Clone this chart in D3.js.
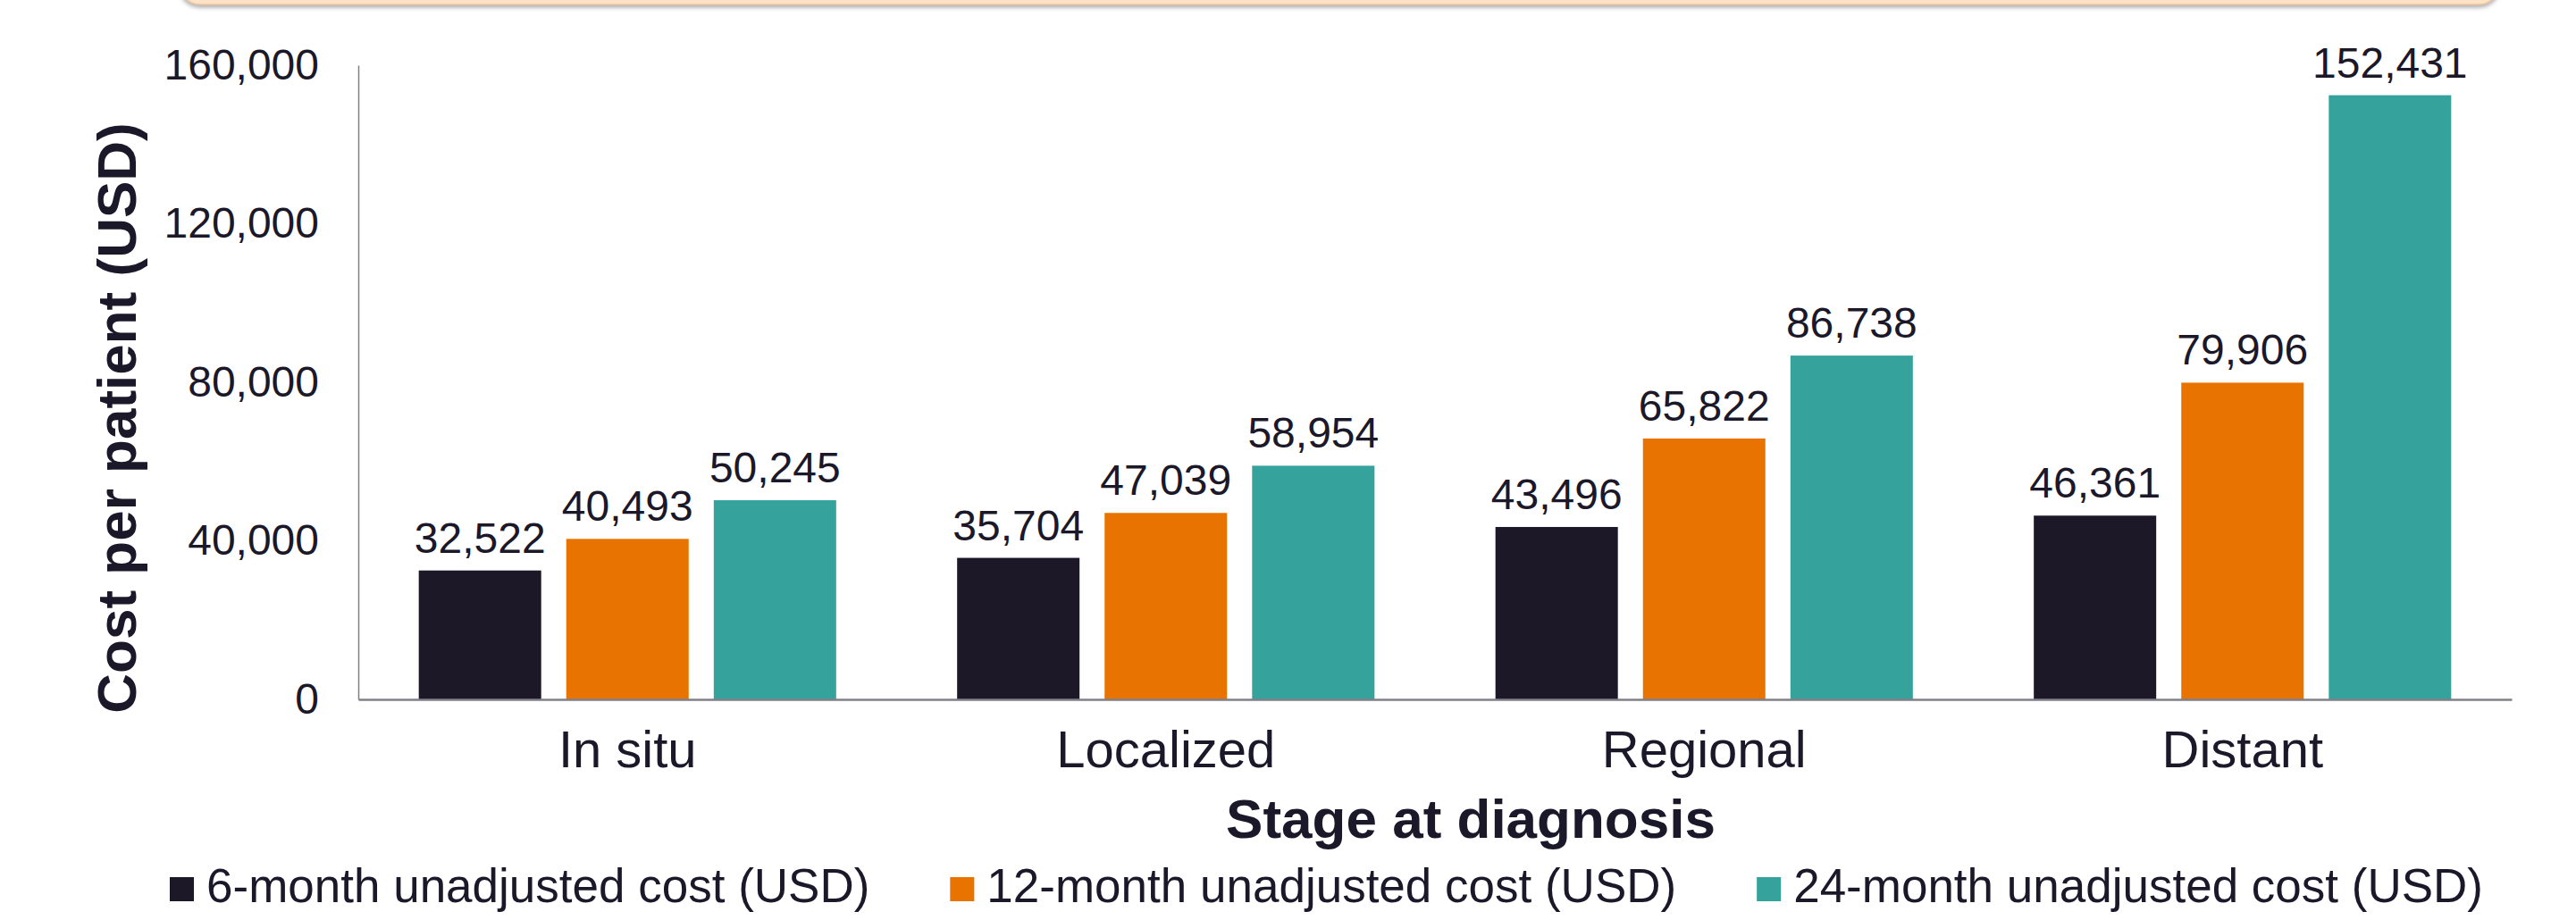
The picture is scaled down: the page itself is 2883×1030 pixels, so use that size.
<!DOCTYPE html>
<html>
<head>
<meta charset="utf-8">
<script src="https://cdn.jsdelivr.net/npm/d3@7"></script>
<style>
  html, body { margin: 0; padding: 0; background: #ffffff; }
  svg { display: block; }
  text { font-family: "Liberation Sans", Arial, sans-serif; fill: #1b1829; }
</style>
</head>
<body>
<svg id="chart" width="2883" height="1030"></svg>
<script>
// ---- data ----
const categories = ["In situ", "Localized", "Regional", "Distant"];
const seriesNames = [
  "6-month unadjusted cost (USD)",
  "12-month unadjusted cost (USD)",
  "24-month unadjusted cost (USD)"
];
const cost6 = [32522, 35704, 43496, 46361];
const cost12 = [40493, 47039, 65822, 79906];
const cost24 = [50245, 58954, 86738, 152431];
const yTicks = [0, 40000, 80000, 120000, 160000];
const seriesColors = ["#1c1828", "#e97300", "#35a39b"];
const xTitle = "Stage at diagnosis";
const yTitle = "Cost per patient (USD)";

const seriesValues = [cost6, cost12, cost24];
const rows = categories.map((c, i) => ({
  category: c,
  values: seriesNames.map((s, j) => ({ series: s, value: seriesValues[j][i], idx: j }))
}));

// ---- layout ----
const svg = d3.select("#chart");
const plotLeft = 401, plotRight = 2811, plotTop = 73, plotBottom = 783;

// defs: shadow for the top banner
const defs = svg.append("defs");
const f = defs.append("filter").attr("id", "shadow").attr("x", "-5%").attr("y", "-50%").attr("width", "110%").attr("height", "200%");
f.append("feDropShadow").attr("dx", 0).attr("dy", 3).attr("stdDeviation", 2).attr("flood-color", "#808080").attr("flood-opacity", 0.6);

// top banner (partially visible)
svg.append("rect")
  .attr("x", 200).attr("y", -70).attr("width", 2598).attr("height", 75)
  .attr("rx", 24).attr("ry", 24)
  .attr("fill", "#fee2c6").attr("stroke", "#ebc59e").attr("stroke-width", 1.5)
  .attr("filter", "url(#shadow)");

const x0 = d3.scaleBand().domain(categories).range([plotLeft, plotRight]).paddingInner(0).paddingOuter(0);
const x1 = d3.scaleBand().domain(seriesNames).range([0, x0.bandwidth()]).paddingInner(0.17).paddingOuter(0.41);
const y = d3.scaleLinear().domain([0, 160000]).range([plotBottom, plotTop]);
const color = d3.scaleOrdinal().domain(seriesNames).range(seriesColors);
const fmt = d3.format(",");

// y axis
const yAxis = svg.append("g")
  .attr("transform", `translate(${plotLeft},0)`)
  .call(d3.axisLeft(y).tickValues(yTicks).tickFormat(fmt).tickSize(0).tickSizeOuter(0).tickPadding(44));
yAxis.select(".domain").attr("stroke", "#808088").attr("stroke-width", 1.5);
yAxis.selectAll(".tick text")
  .attr("font-size", 48).attr("font-family", "Liberation Sans, Arial, sans-serif")
  .attr("fill", "#1b1829");

// bars
const groups = svg.append("g").selectAll("g")
  .data(rows).join("g")
  .attr("transform", d => `translate(${x0(d.category)},0)`);

groups.selectAll("rect")
  .data(d => d.values).join("rect")
  .attr("x", d => x1(d.series))
  .attr("width", x1.bandwidth())
  .attr("y", d => y(d.value))
  .attr("height", d => y(0) - y(d.value))
  .attr("fill", d => color(d.series));

groups.selectAll("text.val")
  .data(d => d.values).join("text")
  .attr("class", "val")
  .attr("x", d => x1(d.series) + x1.bandwidth() / 2)
  .attr("y", d => y(d.value) - 20)
  .attr("text-anchor", "middle")
  .attr("font-size", 48)
  .text(d => fmt(d.value));

// x axis
const xAxis = svg.append("g")
  .attr("transform", `translate(0,${plotBottom})`)
  .call(d3.axisBottom(x0).tickSize(0).tickSizeOuter(0).tickPadding(0));
xAxis.select(".domain").attr("stroke", "#808088").attr("stroke-width", 2.5);
xAxis.selectAll(".tick text")
  .attr("font-size", 58).attr("font-family", "Liberation Sans, Arial, sans-serif")
  .attr("fill", "#1b1829")
  .attr("dy", null).attr("y", 76);

// axis titles
svg.append("text")
  .attr("x", 1646).attr("y", 938)
  .attr("text-anchor", "middle")
  .attr("font-size", 62).attr("font-weight", "bold")
  .text(xTitle);

svg.append("text")
  .attr("transform", "translate(152,468) rotate(-90)")
  .attr("text-anchor", "middle")
  .attr("font-size", 62).attr("font-weight", "bold")
  .text(yTitle);

// legend
const legend = svg.append("g");
let lx = 190;
seriesNames.forEach((s, i) => {
  const g = legend.append("g").attr("transform", `translate(${lx},0)`);
  g.append("rect").attr("x", 0).attr("y", 982).attr("width", 27).attr("height", 27).attr("fill", color(s));
  const t = g.append("text").attr("x", 41).attr("y", 1010).attr("font-size", 53).text(s);
  const w = t.node().getComputedTextLength();
  lx += 41 + w + 90;
});
</script>
</body>
</html>
